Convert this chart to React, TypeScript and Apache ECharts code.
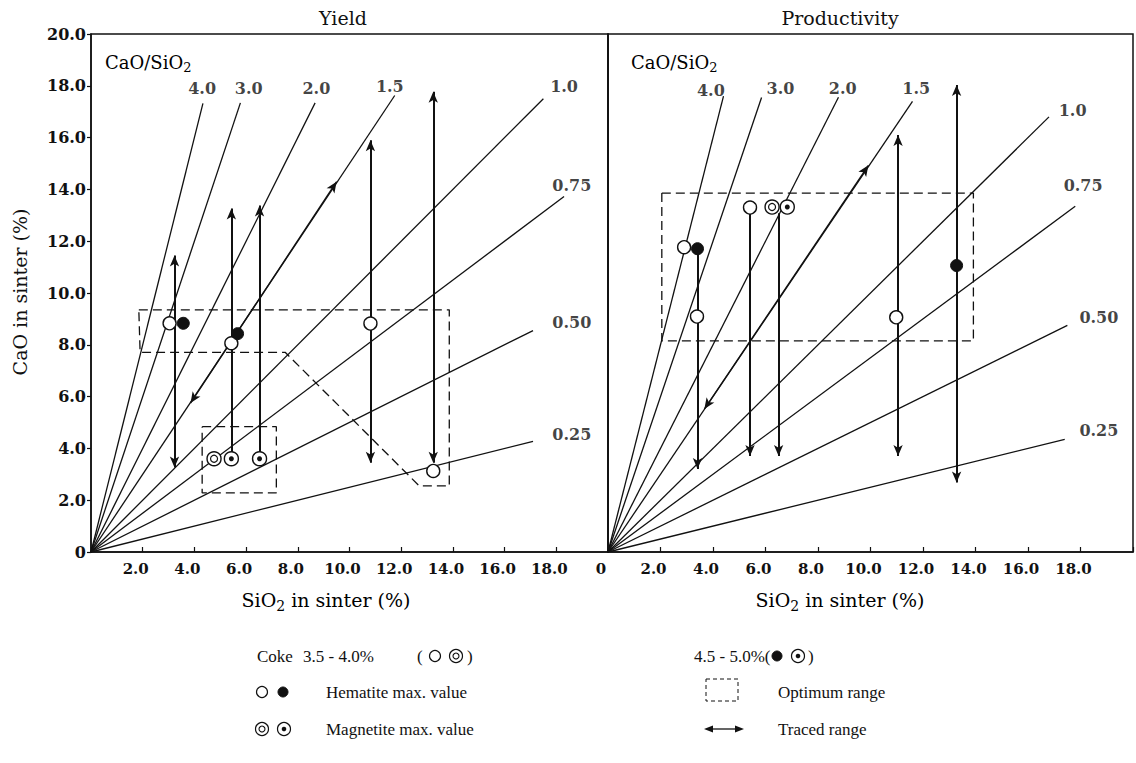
import React, { useEffect, useRef } from 'react';
import * as echarts from 'echarts';

// ---------- data ----------
const ratioValues = [4.0, 3.0, 2.0, 1.5, 1.0, 0.75, 0.5, 0.25];
const ratioLabels = ['4.0', '3.0', '2.0', '1.5', '1.0', '0.75', '0.50', '0.25'];

// SiO2 value at which each CaO/SiO2 ray ends
const yieldRayEndX = [4.33, 5.78, 8.67, 11.75, 17.5, 18.3, 17.1, 17.1];
const prodRayEndX = [4.4, 5.85, 8.78, 11.6, 16.8, 17.8, 17.5, 17.4];

// anchor (SiO2, CaO) of each ray's label
const yieldRayLabelAt = [[4.3, 17.9], [6.1, 17.9], [8.72, 17.9], [11.56, 17.99], [18.3, 17.96], [18.6, 14.16], [18.6, 8.87], [18.6, 4.55]];
const prodRayLabelAt = [[3.92, 17.82], [6.57, 17.9], [8.94, 17.9], [11.74, 17.9], [17.7, 17.06], [18.1, 14.16], [18.7, 9.06], [18.7, 4.68]];

// max-value points (SiO2, CaO)
const yieldHematiteLowCoke = [[3.04, 8.83], [5.43, 8.06], [10.81, 8.82], [13.24, 3.13]];
const yieldHematiteHighCoke = [[3.57, 8.83], [5.67, 8.43]];
const yieldMagnetiteLowCoke = [[4.76, 3.6]];
const yieldMagnetiteHighCoke = [[5.43, 3.6], [6.52, 3.6]];

const prodHematiteLowCoke = [[2.9, 11.77], [5.41, 13.3], [3.39, 9.09], [10.98, 9.06]];
const prodHematiteHighCoke = [[3.41, 11.71], [13.28, 11.06]];
const prodMagnetiteLowCoke = [[6.25, 13.32]];
const prodMagnetiteHighCoke = [[6.83, 13.32]];

// traced ranges: [SiO2, CaO top, CaO bottom, heads]
const yieldTraced = [
  [3.23, 11.45, 3.26, 'both'],
  [5.43, 13.26, 3.6, 'up'],
  [6.52, 13.38, 3.6, 'up'],
  [10.81, 15.9, 3.45, 'both'],
  [13.24, 17.77, 3.45, 'both'],
];
const prodTraced = [
  [3.41, 11.71, 3.2, 'down'],
  [5.41, 13.3, 3.71, 'down'],
  [6.5, 13.08, 3.71, 'down'],
  [11.05, 16.1, 3.71, 'both'],
  [13.28, 18.03, 2.68, 'both'],
];
// traced range along the CaO/SiO2 = 1.5 ray
const yieldTracedAlongRay = [[3.85, 5.75], [9.5, 14.3]];
const prodTracedAlongRay = [[3.67, 5.52], [9.92, 14.93]];

// optimum ranges (polygons)
const yieldOptimumA = [[1.85, 9.35], [13.86, 9.35], [13.86, 2.55], [12.7, 2.55], [7.51, 7.71], [1.9, 7.71], [1.85, 9.35]];
const yieldOptimumB = [[4.3, 4.84], [7.17, 4.84], [7.17, 2.28], [4.3, 2.28], [4.3, 4.84]];
const prodOptimum = [[2.05, 13.86], [13.92, 13.86], [13.92, 8.15], [2.05, 8.15], [2.05, 13.86]];

// tick labels
const yTickLabels = ['0', '2.0', '4.0', '6.0', '8.0', '10.0', '12.0', '14.0', '16.0', '18.0', '20.0'];
const xTickLabelsYield = ['', '2.0', '4.0', '6.0', '8.0', '10.0', '12.0', '14.0', '16.0', '18.0', ''];
const xTickLabelsProd = ['0', '2.0', '4.0', '6.0', '8.0', '10.0', '12.0', '14.0', '16.0', '18.0', ''];

// ---------- styles ----------
const SERIF = 'DejaVu Serif';
const INK = '#111';

function App() {
  const ref = useRef<HTMLDivElement>(null);

  useEffect(() => {
    if (!ref.current) return;
    const chart = echarts.init(ref.current, null, { renderer: 'svg' });

    const tickLabelStyle = { color: INK, fontFamily: SERIF, fontSize: 15, fontWeight: 'bold' as const };

    const makeXAxis = (gridIndex: number, labels: string[]) => ({
      type: 'value',
      gridIndex,
      min: 0,
      max: 20,
      interval: 2,
      axisLine: { show: true, onZero: false, lineStyle: { color: INK, width: 1.5 } },
      axisTick: { show: true, inside: true, length: 5, lineStyle: { color: INK, width: 1.2 } },
      axisLabel: {
        ...tickLabelStyle,
        margin: 9,
        padding: [0, 14, 0, 0],
        showMinLabel: true,
        showMaxLabel: true,
        formatter: (v: number) => labels[Math.round(v / 2)] ?? '',
      },
      splitLine: { show: false },
    });

    const makeYAxis = (gridIndex: number, showLabels: boolean) => ({
      type: 'value',
      gridIndex,
      min: 0,
      max: 20,
      interval: 2,
      axisLine: { show: true, onZero: false, lineStyle: { color: INK, width: 1.5 } },
      axisTick: { show: showLabels, inside: false, length: 4, lineStyle: { color: INK, width: 1.2 } },
      axisLabel: {
        show: showLabels,
        ...tickLabelStyle,
        fontSize: 16,
        margin: 5,
        showMinLabel: true,
        showMaxLabel: true,
        formatter: (v: number) => yTickLabels[Math.round(v / 2)] ?? '',
      },
      splitLine: { show: false },
    });

    const raySeries = (g: number, ends: number[]) =>
      ratioValues.map((r, i) => ({
        type: 'line',
        xAxisIndex: g,
        yAxisIndex: g,
        data: [[0, 0], [ends[i], r * ends[i]]],
        symbol: 'none',
        silent: true,
        lineStyle: { color: INK, width: 1.3 },
        z: 2,
      }));

    const rayLabelSeries = (g: number, pos: number[][]) => ({
      type: 'scatter',
      xAxisIndex: g,
      yAxisIndex: g,
      data: pos.map((p, i) => ({ value: p, name: ratioLabels[i] })),
      symbolSize: 1,
      itemStyle: { color: 'rgba(0,0,0,0)' },
      silent: true,
      label: {
        show: true,
        position: 'inside',
        formatter: '{b}',
        color: INK,
        fontFamily: SERIF,
        fontSize: 16,
        fontWeight: 'bold',
      },
      z: 6,
    });

    const dashedSeries = (g: number, pts: number[][]) => ({
      type: 'line',
      xAxisIndex: g,
      yAxisIndex: g,
      data: pts,
      symbol: 'none',
      silent: true,
      lineStyle: { color: INK, width: 1.3, type: [9, 5] },
      z: 3,
    });

    const tracedSeries = (g: number, traced: any[]) => ({
      type: 'line',
      xAxisIndex: g,
      yAxisIndex: g,
      data: [],
      silent: true,
      markLine: {
        silent: true,
        animation: false,
        symbolSize: [7, 11],
        label: { show: false },
        emphasis: { disabled: true },
        lineStyle: { color: INK, width: 2, type: 'solid' },
        data: traced.map(([x, top, bottom, heads]) => [
          { coord: [x, top], symbol: heads === 'down' ? 'none' : 'arrow' },
          { coord: [x, bottom], symbol: heads === 'up' ? 'none' : 'arrow' },
        ]),
      },
      z: 4,
    });

    const alongRaySeries = (g: number, pts: number[][]) => ({
      type: 'line',
      xAxisIndex: g,
      yAxisIndex: g,
      data: [],
      silent: true,
      markLine: {
        silent: true,
        animation: false,
        symbol: ['arrow', 'arrow'],
        symbolSize: [7, 11],
        label: { show: false },
        emphasis: { disabled: true },
        lineStyle: { color: INK, width: 1.3, type: 'solid' },
        data: [[{ coord: pts[0] }, { coord: pts[1] }]],
      },
      z: 4,
    });

    const circle = (g: number, pts: number[][], size: number, fill: string, border: number, z: number) => ({
      type: 'scatter',
      xAxisIndex: g,
      yAxisIndex: g,
      data: pts,
      symbol: 'circle',
      symbolSize: size,
      silent: true,
      itemStyle: { color: fill, borderColor: INK, borderWidth: border, opacity: 1 },
      z,
    });

    const markerSeries = (g: number, hemLow: number[][], hemHigh: number[][], magLow: number[][], magHigh: number[][]) => [
      circle(g, hemLow, 13, '#fff', 1.4, 7),
      circle(g, hemHigh, 12, '#111', 1, 7),
      circle(g, magLow, 14, '#fff', 1.4, 7),
      circle(g, magLow, 7, '#fff', 1.2, 8),
      circle(g, magHigh, 14, '#fff', 1.4, 7),
      circle(g, magHigh, 5, '#111', 0, 8),
    ];

    const subRich = {
      n: { fontFamily: SERIF, fontSize: 19, color: INK },
      s: { fontFamily: SERIF, fontSize: 14, color: INK, padding: [11, 0, 0, 0] },
    };
    const ratioRich = {
      n: { fontFamily: SERIF, fontSize: 18, color: INK },
      s: { fontFamily: SERIF, fontSize: 13, color: INK, padding: [10, 0, 0, 0] },
    };
    const legendFont = { fontFamily: 'Liberation Serif', fontSize: 17, fill: INK };

    const legendText = (text: string, x: number, y: number) => ({
      type: 'text',
      x,
      y,
      silent: true,
      style: { text, ...legendFont, align: 'left', verticalAlign: 'middle' },
    });

    // legend glyphs drawn as shapes
    const hollow = (cx: number, cy: number) => ({
      type: 'circle', silent: true, shape: { cx, cy, r: 5.5 }, style: { fill: '#fff', stroke: INK, lineWidth: 1.2 },
    });
    const filled = (cx: number, cy: number) => ({
      type: 'circle', silent: true, shape: { cx, cy, r: 5 }, style: { fill: INK, stroke: INK, lineWidth: 1 },
    });
    const doubleRing = (cx: number, cy: number) => ({
      type: 'group', silent: true,
      children: [
        { type: 'circle', shape: { cx, cy, r: 6.5 }, style: { fill: '#fff', stroke: INK, lineWidth: 1.2 } },
        { type: 'circle', shape: { cx, cy, r: 3 }, style: { fill: '#fff', stroke: INK, lineWidth: 1.1 } },
      ],
    });
    const dotRing = (cx: number, cy: number) => ({
      type: 'group', silent: true,
      children: [
        { type: 'circle', shape: { cx, cy, r: 6.5 }, style: { fill: '#fff', stroke: INK, lineWidth: 1.2 } },
        { type: 'circle', shape: { cx, cy, r: 2.3 }, style: { fill: INK } },
      ],
    });

    const option: any = {
      animation: false,
      backgroundColor: '#fff',
      grid: [
        { left: 91, top: 34, width: 517, height: 518, show: true, borderColor: INK, borderWidth: 1.5, backgroundColor: 'transparent' },
        { left: 608, top: 34, width: 530, height: 518, show: true, borderColor: INK, borderWidth: 1.5, backgroundColor: 'transparent' },
      ],
      xAxis: [makeXAxis(0, xTickLabelsYield), makeXAxis(1, xTickLabelsProd)],
      yAxis: [makeYAxis(0, true), makeYAxis(1, false)],
      series: [
        ...raySeries(0, yieldRayEndX),
        ...raySeries(1, prodRayEndX),
        rayLabelSeries(0, yieldRayLabelAt),
        rayLabelSeries(1, prodRayLabelAt),
        dashedSeries(0, yieldOptimumA),
        dashedSeries(0, yieldOptimumB),
        dashedSeries(1, prodOptimum),
        tracedSeries(0, yieldTraced),
        tracedSeries(1, prodTraced),
        alongRaySeries(0, yieldTracedAlongRay),
        alongRaySeries(1, prodTracedAlongRay),
        ...markerSeries(0, yieldHematiteLowCoke, yieldHematiteHighCoke, yieldMagnetiteLowCoke, yieldMagnetiteHighCoke),
        ...markerSeries(1, prodHematiteLowCoke, prodHematiteHighCoke, prodMagnetiteLowCoke, prodMagnetiteHighCoke),
      ],
      graphic: [
        { type: 'text', x: 343, y: 18, silent: true, style: { text: 'Yield', fontFamily: SERIF, fontSize: 19, fill: INK, align: 'center', verticalAlign: 'middle' } },
        { type: 'text', x: 840, y: 18, silent: true, style: { text: 'Productivity', fontFamily: SERIF, fontSize: 19, fill: INK, align: 'center', verticalAlign: 'middle' } },
        { type: 'text', x: 105, y: 62, silent: true, style: { text: '{n|CaO/SiO}{s|2}', rich: ratioRich, align: 'left', verticalAlign: 'middle' } },
        { type: 'text', x: 631, y: 62, silent: true, style: { text: '{n|CaO/SiO}{s|2}', rich: ratioRich, align: 'left', verticalAlign: 'middle' } },
        { type: 'text', x: 326, y: 600, silent: true, style: { text: '{n|SiO}{s|2}{n| in sinter (%)}', rich: subRich, align: 'center', verticalAlign: 'middle' } },
        { type: 'text', x: 840, y: 600, silent: true, style: { text: '{n|SiO}{s|2}{n| in sinter (%)}', rich: subRich, align: 'center', verticalAlign: 'middle' } },
        { type: 'text', x: 20, y: 292, rotation: Math.PI / 2, silent: true, style: { text: 'CaO in sinter (%)', fontFamily: SERIF, fontSize: 19, fill: INK, align: 'center', verticalAlign: 'middle' } },
        // legend
        legendText('Coke', 257, 656),
        legendText('3.5 - 4.0%', 303, 656),
        legendText('(', 417, 656),
        hollow(435, 656),
        doubleRing(456, 656),
        legendText(')', 467, 656),
        legendText('4.5 - 5.0%(', 694, 656),
        filled(777, 656),
        dotRing(798, 656),
        legendText(')', 808, 656),
        hollow(262, 692),
        filled(283, 692),
        legendText('Hematite max. value', 326, 692),
        doubleRing(262, 729),
        dotRing(284, 729),
        legendText('Magnetite max. value', 326, 729),
        {
          type: 'rect', silent: true,
          shape: { x: 706, y: 679, width: 32, height: 22 },
          style: { fill: 'none', stroke: INK, lineWidth: 1, lineDash: [4, 3] },
        },
        legendText('Optimum range', 778, 692),
        { type: 'line', silent: true, shape: { x1: 708, y1: 729, x2: 740, y2: 729 }, style: { stroke: INK, lineWidth: 1.3 } },
        { type: 'polygon', silent: true, shape: { points: [[704, 729], [713, 725.5], [713, 732.5]] }, style: { fill: INK } },
        { type: 'polygon', silent: true, shape: { points: [[744, 729], [735, 725.5], [735, 732.5]] }, style: { fill: INK } },
        legendText('Traced range', 778, 729),
      ],
    };

    chart.setOption(option);
    return () => chart.dispose();
  }, []);

  return (
    <div
      ref={ref}
      style={{ position: 'absolute', left: 0, top: 0, width: 1136, height: 763, background: '#fff' }}
    />
  );
}

export default App;
